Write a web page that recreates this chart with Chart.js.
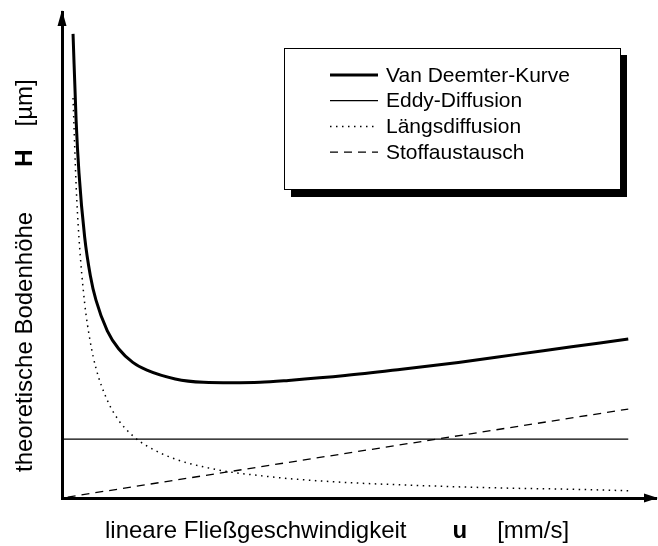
<!DOCTYPE html>
<html>
<head>
<meta charset="utf-8">
<script src="https://cdn.jsdelivr.net/npm/chart.js@4.4.0/dist/chart.umd.min.js"></script>
<style>
  body { margin: 0; background: #fff; }
  #wrap { width: 658px; height: 546px; }
</style>
</head>
<body>
<div id="wrap"><canvas id="mycanvas" width="658" height="546"></canvas></div>
<script>
// values (u in arbitrary units, H in arbitrary units)
const uCurve = [0.195, 0.25, 0.3, 0.4, 0.5, 0.6, 0.8, 1, 1.25, 1.5, 2, 2.5, 3, 3.5, 4, 5, 6, 7, 8, 9, 10];
const vanDeemter = [9.55, 7.75, 6.69, 5.37, 4.58, 4.07, 3.44, 3.07, 2.79, 2.63, 2.45, 2.38, 2.37, 2.38, 2.42, 2.52, 2.65, 2.79, 2.95, 3.11, 3.27];
const laengs = [8.23, 6.42, 5.35, 4.01, 3.21, 2.67, 2.01, 1.60, 1.28, 1.07, 0.80, 0.64, 0.53, 0.46, 0.40, 0.32, 0.27, 0.23, 0.20, 0.18, 0.15];
const uEddy = [0, 10];
const eddy = [1.21, 1.21];
const uStoff = [0.1, 10];
const stoff = [0.02, 1.83];
const labels = ['Van Deemter-Kurve', 'Eddy-Diffusion', 'Längsdiffusion', 'Stoffaustausch'];

function pts(xs, ys) {
  const out = [];
  for (var i = 0; i < xs.length; i++) out.push({x: xs[i], y: ys[i]});
  return out;
}

const FONT = '"Liberation Sans", Arial, sans-serif';

// arrows, axis titles, legend box
const extras = {
  id: 'extras',
  afterDraw: function(chart) {
    const c = chart.ctx;
    const a = chart.chartArea;
    c.save();
    c.fillStyle = '#000';
    // y arrow
    c.beginPath();
    c.moveTo(a.left, a.top - 2);
    c.lineTo(a.left - 4.5, a.top + 14);
    c.lineTo(a.left + 4.5, a.top + 14);
    c.closePath();
    c.fill();
    // x arrow
    c.beginPath();
    c.moveTo(a.right + 2, a.bottom);
    c.lineTo(a.right - 12, a.bottom - 4.5);
    c.lineTo(a.right - 12, a.bottom + 4.5);
    c.closePath();
    c.fill();

    // x title
    const xParts = [['lineare Fließgeschwindigkeit', false], ['u', true], ['[mm/s]', false]];
    const xGaps = [0, 46, 30];
    var px = 105;
    c.textBaseline = 'alphabetic';
    for (var i = 0; i < xParts.length; i++) {
      c.font = (xParts[i][1] ? 'bold ' : '') + '24px ' + FONT;
      px += xGaps[i];
      c.fillText(xParts[i][0], px, 538);
      px += c.measureText(xParts[i][0]).width;
    }
    // y title
    c.translate(32, 472);
    c.rotate(-Math.PI / 2);
    const yParts = [['theoretische Bodenhöhe', false], ['H', true], ['[µm]', false]];
    const yGaps = [0, 45, 23];
    px = 0;
    for (var j = 0; j < yParts.length; j++) {
      c.font = (yParts[j][1] ? 'bold ' : '') + '24px ' + FONT;
      px += yGaps[j];
      c.fillText(yParts[j][0], px, 0);
      px += c.measureText(yParts[j][0]).width;
    }
    c.restore();

    // legend
    c.save();
    const bx = 284, by = 48, bw = 336, bh = 141;
    c.fillStyle = '#000';
    c.fillRect(bx + 7, by + bh, bw, 8);
    c.fillRect(bx + bw, by + 7, 7, bh);
    c.fillStyle = '#fff';
    c.fillRect(bx, by, bw, bh);
    c.strokeStyle = '#000';
    c.lineWidth = 1;
    c.strokeRect(bx + 0.5, by + 0.5, bw, bh);
    c.font = '21px ' + FONT;
    c.textBaseline = 'middle';
    chart.data.datasets.forEach(function(ds, k) {
      const yy = by + 27 + k * 25.7;
      c.strokeStyle = ds.borderColor;
      c.lineWidth = ds.borderWidth;
      c.setLineDash(ds.borderDash || []);
      c.beginPath();
      c.moveTo(330, yy);
      c.lineTo(378, yy);
      c.stroke();
      c.fillStyle = '#000';
      c.fillText(ds.label, 386, yy + 1);
    });
    c.restore();
  }
};

var ctx = document.getElementById('mycanvas');

var chart = new Chart(ctx, {
  type: 'line',
  data: {
    datasets: [
      {label: labels[0], data: pts(uCurve, vanDeemter), borderColor: '#000', borderWidth: 3, pointRadius: 0, cubicInterpolationMode: 'monotone'},
      {label: labels[1], data: pts(uEddy, eddy), borderColor: '#000', borderWidth: 1.3, pointRadius: 0},
      {label: labels[2], data: pts(uCurve, laengs), borderColor: '#000', borderWidth: 1.5, borderDash: [1.5, 4.5], pointRadius: 0, cubicInterpolationMode: 'monotone'},
      {label: labels[3], data: pts(uStoff, stoff), borderColor: '#000', borderWidth: 1.3, borderDash: [8, 6], pointRadius: 0}
    ]
  },
  options: {
    responsive: false,
    animation: false,
    layout: {padding: {left: 54, right: 2, top: 12, bottom: 40}},
    plugins: {legend: {display: false}, tooltip: {enabled: false}},
    scales: {
      x: {type: 'linear', min: 0, max: 10.49, grid: {display: false}, ticks: {display: false}, border: {color: '#000', width: 3}},
      y: {type: 'linear', min: 0, max: 10, grid: {display: false}, ticks: {display: false}, border: {color: '#000', width: 3}}
    }
  },
  plugins: [extras]
});
</script>
</body>
</html>
